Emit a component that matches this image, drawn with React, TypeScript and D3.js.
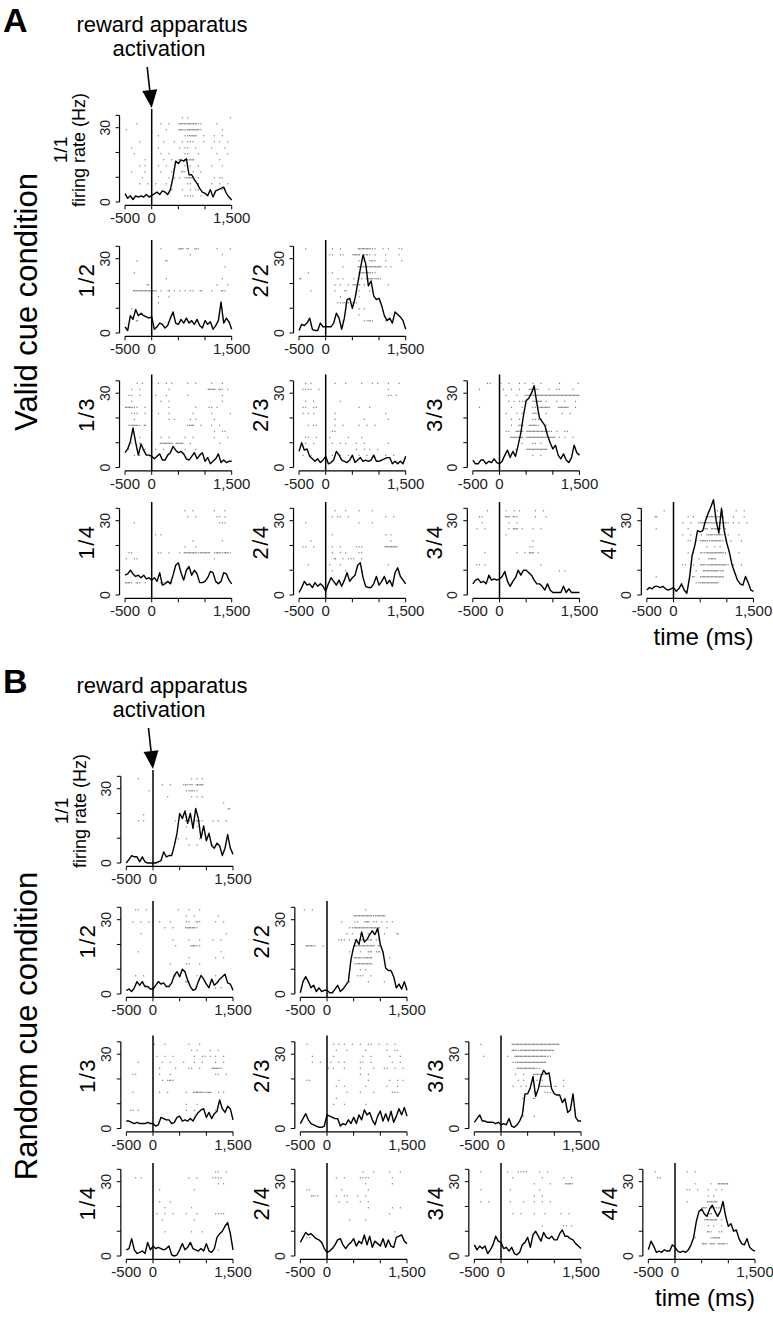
// Spike rasters + PSTHs for the valid / random cue conditions (panels A and B)

import * as d3 from "d3";

const WIDTH = 773;
const HEIGHT = 1319;
const FONT = "'Liberation Sans', Arial, Helvetica, sans-serif";

// PSTH bin times (ms) and axis ticks
const TIMES = d3.range(-500, 1501, 50);
const X_TICKS = [-500, 0, 500, 1000, 1500];
const X_TICK_LABELS = ["-500", "0", "", "", "1,500"];
const Y_TICKS = [0, 10, 20, 30, 35];
const Y_TICK_LABELS = ["0", "", "", "30", ""];

// firing rate (Hz) per 50 ms bin, valid cue condition
const VALID_1_1 = [3.4, 1.5, 2.5, 1, 2.5, 2, 2.5, 2, 3, 2, 2.7, 3.3, 4, 3, 4.5, 4, 3, 5, 10, 16.5, 15.5, 17, 16.5, 17.5, 11, 11, 9, 7.5, 5.5, 4, 3.5, 2.5, 5, 2, 4.5, 5, 5.5, 6, 3.5, 2, 0.8];
const VALID_1_2 = [2.5, 1, 7, 5.5, 9.5, 7, 8, 7, 6.5, 6, 6.5, 1.5, 2.5, 4, 3.5, 2, 3, 6, 8.5, 4, 3.5, 5.5, 4, 6, 4, 5, 3.5, 5.5, 3, 2, 5, 3.5, 4.5, 1.5, 3, 5, 12.5, 4, 6, 4.5, 1.5];
const VALID_2_2 = [1, 3.5, 3, 4, 6, 1.5, 1, 1, 4, 2.5, 2.5, 2.5, 2.5, 4, 8, 6, 1.5, 6, 13.5, 14, 10, 14, 20, 26, 31.5, 28, 19, 21, 15, 13.5, 14, 11, 7, 5, 6, 4, 8.5, 7.5, 6.5, 5, 1.5];
const VALID_1_3 = [6, 7.5, 10.5, 16, 10, 5, 9.5, 7, 5, 5, 4.5, 3.5, 4.5, 5.5, 3, 3, 5, 6, 8.5, 7, 6, 6.5, 5.5, 3.5, 3, 4.5, 6, 3.5, 5, 6, 2.5, 4, 1.5, 2.5, 3.5, 5.5, 2, 3, 2, 2.5, 2.5];
const VALID_2_3 = [6.5, 10, 7, 7.5, 4.5, 3.5, 2.5, 3.5, 2, 3, 4.5, 1.5, 2, 3, 6.5, 5, 3, 2.5, 2, 3, 5, 2, 3, 4, 2.5, 3, 2.5, 3, 5, 2.5, 2.5, 3, 3.5, 4, 4, 1.5, 2.5, 1.5, 2.5, 1.5, 4.5];
const VALID_3_3 = [3, 1.5, 1.5, 3, 3, 1.5, 2.5, 2, 3.5, 2, 1.5, 2.5, 5, 7, 4, 6.5, 4.5, 9, 14, 21, 27, 28, 30, 33, 26, 20, 18.5, 17, 13, 10, 7.5, 9, 5, 3.5, 5.5, 3, 2, 4, 9, 6, 5];
const VALID_1_4 = [8, 8.5, 10, 8.5, 7.5, 8, 7, 8, 6.5, 7, 6, 7, 5.5, 9, 4, 4.5, 5.5, 4.5, 8, 12, 13, 9, 6, 10, 11.5, 8, 10, 8.5, 5, 5, 5.5, 7, 9.5, 9, 5.5, 4.5, 5.5, 9, 8.5, 6, 4.5];
const VALID_2_4 = [1, 3, 5.5, 4, 4.5, 3, 5, 3.5, 4.5, 3.5, 1.5, 4.5, 7, 5.5, 4, 6, 3.5, 6, 9, 5.5, 7, 8, 12, 13, 7, 3.5, 3, 3, 4.5, 7.5, 4, 5.5, 7.5, 4.5, 6, 3.5, 9, 11, 7.5, 6, 4.5];
const VALID_3_4 = [4.5, 6, 6.5, 5, 5.5, 4.5, 8, 6, 6.5, 6, 6.5, 7.5, 9.5, 5.5, 3.5, 5.5, 7, 10, 8, 10, 10, 9, 8, 6, 4.5, 4.5, 3.5, 2, 4.5, 2, 1, 1, 1, 1, 3.5, 1, 2.5, 1, 1, 1, 1];
const VALID_4_4 = [2, 3, 2.5, 3.5, 3.5, 3, 3.5, 2.5, 2, 2.5, 3, 1.5, 2.5, 4.5, 2, 0.7, 7, 16, 20, 26, 25.5, 26, 30, 33, 35.5, 38.5, 30, 25, 35, 26, 21, 17, 12, 9, 6, 4.5, 4, 7.5, 5, 2, 1.5];

// firing rate (Hz) per 50 ms bin, random cue condition
const RANDOM_1_1 = [0, 1.5, 3, 2.5, 2.5, 0.5, 2.5, 0.5, 0, 0, 0, 0, 0.5, 1, 4.5, 2.5, 3, 3, 7, 12, 20, 18, 21, 16, 20, 14, 22, 18, 10, 15, 9, 12, 7, 6, 8, 7, 3, 6, 11.5, 6, 3.5];
const RANDOM_1_2 = [1.5, 2, 1, 2.5, 5, 3.5, 5, 3, 3, 2, 2, 3.5, 5, 4, 4.5, 3, 3, 4.5, 7.5, 9, 7, 10, 9, 5.5, 3, 1.5, 2, 5, 7.5, 6, 4, 2.5, 6, 3.5, 4.5, 6, 7, 8, 4.5, 4, 1.5];
const RANDOM_2_2 = [0.5, 5, 7, 5, 2.5, 3.5, 1, 2.5, 1, 1.5, 1.5, 0.5, 0.5, 2, 3.5, 1, 2, 3.5, 5, 14, 19, 22, 20, 25, 21, 22, 24, 25.5, 24, 26.5, 20, 17, 10.5, 9.5, 9.5, 7, 2.5, 4, 2, 5, 1.5];
const RANDOM_1_3 = [3, 3, 2.5, 2, 2.5, 2, 2, 2, 2.5, 2, 2, 1, 1.5, 4.5, 4, 3.5, 3.5, 2, 2.5, 4.5, 5, 3, 3.5, 3, 4, 3, 5, 6.5, 7.5, 8, 4.5, 6.5, 4, 6, 7, 11.5, 8, 6.5, 9, 8, 3.5];
const RANDOM_2_3 = [2, 4, 6, 3.5, 2, 1.5, 1, 0.5, 0.5, 1, 5.5, 5, 4.5, 4, 4, 1, 2, 1.5, 3.5, 2, 4.5, 2, 5.5, 3.5, 7.5, 5.5, 6.5, 3.5, 1.5, 5, 7, 3, 6, 3, 7, 2.5, 5, 8, 5.5, 8.5, 5];
const RANDOM_3_3 = [2.5, 4, 5.5, 3, 3, 2.5, 2.5, 2.5, 2, 2.5, 1.5, 2, 1.5, 4, 1, 0.5, 1.5, 3, 5.5, 14, 14, 16.5, 21, 13, 16, 21, 23.5, 22, 22.5, 16, 14, 13.5, 13.5, 10.5, 12, 6.5, 7.5, 14, 4.5, 3, 3];
const RANDOM_1_4 = [2.5, 3, 7, 2.5, 1, 1.5, 2, 1, 5.5, 2.5, 4, 3, 3.5, 3, 2.5, 3, 4, 0.5, 0, 0.5, 2.5, 5, 2.5, 3.5, 5.5, 3, 2.5, 2, 3, 2, 5, 2, 1.5, 3, 7.5, 9, 10, 12, 13.5, 9, 2.5];
const RANDOM_2_4 = [5.5, 7.5, 9.5, 8.5, 9, 8, 7, 6.5, 5.5, 3, 1.5, 2, 3, 4.5, 6.5, 7, 4.5, 3, 4.5, 5.5, 7, 4, 6, 5, 8.5, 4.5, 8, 3.5, 6, 5, 4, 7, 3.5, 6.5, 4, 3.5, 7.5, 8, 8.5, 6, 5];
const RANDOM_3_4 = [4.5, 2.5, 4, 3, 4, 1, 2.5, 4.5, 8, 6, 5.5, 3, 3.5, 2, 3.5, 1, 0.5, 1.5, 4.5, 5.5, 7.5, 3.5, 8.5, 10, 8, 6, 9.5, 7.5, 7, 8, 6.5, 6.5, 9, 10.5, 8, 8, 7, 6.5, 5, 4, 3];
const RANDOM_4_4 = [2.5, 6, 4, 1.5, 2, 1.5, 2.5, 2, 2, 4.5, 3.5, 2, 1.5, 2, 1.5, 2.5, 4.5, 7.5, 14, 18, 19, 17, 16, 19, 20.5, 18, 16, 18, 22, 16, 12, 13, 10, 10.5, 7, 5, 4.5, 7, 3.5, 2.5, 2];

// spike rasters: one string per trial (top to bottom), one char per 50 ms bin
// from -500 to 1500 ms, "|" every 500 ms.  "." spike, ":" two spikes, "-" burst
const RASTER_V_1_1 = [
  "          |          | . .      |         .",
  "    .     |   .  .   |-------.. |    .     ",
  ".         |     .    |--.-----. |      .   ",
  "          |  .       |  ..---  .|   .  .   ",
  "     .    |    .   . | . ...   .|   . .  . ",
  "  .       |  .       |. ..  .   |  .    .  ",
  "   .      |   .  .   |  ..   .  |    .   . ",
  "       .  |    .  .  |- ..--    |     .    ",
  "     . .  |  .  .    |  . .  .  |  .   .   ",
  "  .    .  |   .   .  | -.  .  . |          ",
  "      .   |      . . |. .--- .  |   . ..   ",
  "     .  . | .   . .  |   ..  .  |  .  .  . ",
  "          |       .  | .  . ..  |      .   ",
  "          |          |  ....  . |          ",
];
const RASTER_V_1_2 = [
  "          |   .      |-- -  -.  |    .    .",
  "          |          |    .     |      .   ",
  "    .     |     :    |          |          ",
  "          |          |          |       .  ",
  "   .      |          |          |          ",
  "          |     .    |          |      .   ",
  "        : |          |          |    .   . ",
  "   -------|-- .  - . |. . ..  - |  .   -.  ",
  "          |  .   .   |          |          ",
  "          |  .       |          |          ",
  "  .       |          |          |          ",
  "          |          |          |          ",
  "    :     |          |          |          ",
  "          |          |          |          ",
];
const RASTER_V_2_2 = [
  "  .       |  .  .    |  -----.. | . .   .. ",
  "          | ..  ..   |--- --. . |  .    .  ",
  "          |          |  ... .-. |  .     . ",
  "          |      .   |  -------:|- . .     ",
  "   .      |  .       |  .----.. |          ",
  "-         |    . .   |. .. ---.-|.         ",
  "          |   . .  . |--- .     |   .      ",
  "    .     |   .   -  |  .   .   |          ",
  "          |     .    |  .       |          ",
  "          |    ...-. |-.        |          ",
  "          |          |  . .     |          ",
  "          |          |  .       |          ",
  "          |      .   |    ..-.  |  .       ",
  "          |          |          |          ",
];
const RASTER_V_1_3 = [
  "    . .   |  .  . .  |   .  .   |  .   .   ",
  "  .  .    |      .   |          | --- -. . ",
  " ..  .    | .   .    |   .      |      .   ",
  "  .       |   .  .   |          |      .   ",
  "---..  .  |      .   |      .   | .. .     ",
  "  ...  .  |  .   .   |     .    |  .      .",
  "   .      |      . . |    . .   |   .      ",
  " .---. -  |          |   .--  . |  .  .    ",
  "          |          |          |   .  ..  ",
  "   . .    |   .  .   |  .  .    |   .    . ",
  "  .  .    |   ----- -|--  .     |     .    ",
  " .  .  .  | .  .  .  |  .   .   |          ",
  "   . .    |          |          |          ",
  "          |          |          |          ",
];
const RASTER_V_2_3 = [
  "  . .     |   .   .  |   .   . .|   .   .  ",
  " ....  .  |          |          |   .      ",
  "          |          |          |   .. .   ",
  "  .  .    |     .    |          |          ",
  " ..  ..   |          |  .   .   |          ",
  " . . .    |   .      |          |  .       ",
  "          |   .      |    .     |   .      ",
  "   . ..   |   .  .   |  .  .  . |          ",
  "          |  ..      |          |          ",
  "  ..  .   | .      . |   .      |          ",
  "  .  .    |  .  . .  | .  .     |   .      ",
  "          |          | .  . .  .|          ",
  " .  .     |  .  .  . |  .  .    |  .  .    ",
  "          |          |          |          ",
];
const RASTER_V_3_3 = [
  "     ..   |.  .   . .|  .  .    |  .      .",
  "  .       | .  .  .  | ---.   . | ..    .  ",
  "          |  .   .  .|----------|:---------",
  "          |   . . ...|  .--- .  | .  .   . ",
  "  .       |    .   . |  ...---- |  ----  . ",
  "          |  .   . . |  .-.  .  |   .  .   ",
  "          |    .  .  |  ....    |          ",
  "          |    .  -- | ---.  .  |          ",
  "          |  ..  --- |---------.| .  ..    ",
  "          |    ----- |----------|- . .  .  ",
  "          |        . |  .. .    |          ",
  "          |      -   |--------  |          ",
  "          |          |  .  .    |          ",
  "          |          |          |          ",
];
const RASTER_V_1_4 = [
  "          |          |  .  .    |   .   .  ",
  "          |          |   .  .   |    .. .  ",
  "   .      |          |          |     ...  ",
  "          |          |          |          ",
  "          | . .      |          |          ",
  "          |          |     .    |      .   ",
  "          |          |  .   .   |          ",
  " ..       |  ..  .   |. -----.--|-- .--.--.",
  ".  ..     |          |          |   .      ",
  "          |          |          |          ",
  "          |          |          |          ",
  "          |          |          |          ",
  "--. -. .  |   -.  .  |          |          ",
  "          |          |          |          ",
];
const RASTER_V_2_4 = [
  "          |   .   .  |  .    .  |          ",
  "          |  . ..  . |          |  .  .    ",
  "  .       |          |  .    .  |          ",
  "          |          |          |          ",
  "          |  .       |          |  . .     ",
  "    .     |          |          |    .     ",
  " ..  .    |  .  .    | ...      |  -----   ",
  "          |  .  . .  |  ..      |          ",
  "          |   -  . ..|.  .      |          ",
  "   .      | .   .    |          |   .      ",
  "          |  .    .  |   .      |          ",
  "          |          |          |          ",
  "          |          |          |          ",
  "          |          |          |          ",
];
const RASTER_V_3_4 = [
  "     .    |  .  . .  |   .  .   |          ",
  "  ..      |  -- -.   |   .   .  |          ",
  "   .      |   .  .   |          |          ",
  " .  .     |   . -- . |  .  .    |          ",
  "          |  .       |          |          ",
  "          |          |  .       |          ",
  "          |          | ..       |          ",
  "    .     |      .  .| -- .     |          ",
  "          |          |          |          ",
  " .. .     |          |     .    |          ",
  "          |          |          |  . .     ",
  "          |          |          |          ",
  "          |          |          |          ",
  "          |          |          |          ",
];
const RASTER_V_4_4 = [
  "      .   |          |   .  . . |   .  .   ",
  "   -      |     . .  |  ------- |  .   .   ",
  "          |   .  .  .|---------:|. . .  .  ",
  "   .      |     .    | -- ---- .|          ",
  "          |   .  .   |. .--.--. |.   .     ",
  "          |     .. . |---.----..| .   .    ",
  "          |          |  .  . .  |          ",
  "          |     . .  |-.-------.|    .     ",
  "          |         .|   ---    |          ",
  "          |   ..  .  |--.-------|. .  .    ",
  "          |      . . | ------.- |          ",
  "   .      |       -  |--------- |          ",
  "          |        ..|-------   |          ",
  "          |          |          |          ",
];

const RASTER_R_1_1 = [
  "    .     |          |    . . . |          ",
  "          |   .  .   | .-.- --- |          ",
  "        . |          |  ..-..   |          ",
  "          |     .    |    . . . |          ",
  "          |          |          |      .   ",
  "          |          |          |        - ",
  "      .   |          |          |          ",
  "    . .   |        . |  -- .-.. |  . .  .  ",
  "          |          |  .   .   |          ",
  "          |          |          |          ",
  "          |         .|  .    .  |          ",
  "          |          |   .  .   |  . .     ",
  "          |          |          |          ",
  "          |          |          |          ",
];
const RASTER_R_1_2 = [
  "   ..  .  |         .|   .   .  |          ",
  "          |          |  .  .    |    .     ",
  "  .  .  . |  .   .   |  ..  -.  |   .  .   ",
  "          |    .  .  |  ----.   |          ",
  "     .    |          |          |       .  ",
  "          |       .  |   .   .  |  .  .    ",
  "          |        . |    --..  |          ",
  "    .     |          |          |     .    ",
  "          |          |   .      |   .  .   ",
  "          |      .   |  ..   .  |          ",
  "          |          |          |          ",
  "   .  .   |        . |      .   |   .      ",
  "          |          |  -.      |    .     ",
  "          |          |          |   . .    ",
];
const RASTER_R_2_2 = [
  " .  .     |          |    .     |          ",
  "          |          |-------.--|--        ",
  "          |     .    |..  -- .. |. . .     ",
  "          |        ..|----------|  .       ",
  "          |       . .|  .  . .  | .    -   ",
  "          |    ... . |. -- .- ..|          ",
  "  ---.  . |          |-------- -|          ",
  "          |        . |  .  .- .:|          ",
  "          |          |---.---   |   .      ",
  "          |          |.------   |          ",
  "          |          |  . .     |          ",
  "          |          | ...  .   |          ",
  "          |        . |     .    | .        ",
  "          |          |          |          ",
];
const RASTER_R_1_3 = [
  "          |.   .     |   .   .  |          ",
  "          |          |    . .   | .  .     ",
  "          | .  .  .  |     .  ..| . .  .   ",
  "    .     |   .  .   | .   .  . |   .  .   ",
  "          |  .     . |   ..  .  |  ---.    ",
  "  ..      |  .   .   |          |   ..  .  ",
  "          |   . .-.  |          |          ",
  "          |          |          |          ",
  "  .       |  .  .    |  .  ----.|--  . .   ",
  "          |          |          |          ",
  "          |          |  .   .   |          ",
  " .. .     |          |  .  .    |   .  .   ",
  "          |          |          |          ",
  "          |          |          |          ",
];
const RASTER_R_2_3 = [
  "  .       |  . . .  .|  .  ..  .|  .  .    ",
  "          |   .   .  |    .     |  .  ..   ",
  "    .     |  .       |   .  .   |   .   .  ",
  "    .  .  | .  . .   |  ..  .   |    .  .  ",
  "          |. .   .   |  .    .  | ..  .  . ",
  "          |          |  .  .    |          ",
  "  ..      |    .     |     .    |   .  . . ",
  "          |   .  .   |    .     |  .   .   ",
  "          |       .  |  .    .  |    ...   ",
  "          |   .      |          |          ",
  "          |  .   .   |    .     |          ",
  "          |          |          |          ",
  "          |          |          |          ",
  "          |          |          |          ",
];
const RASTER_R_3_3 = [
  "  .       |    ------|----------|--        ",
  "          |    --.---|----------|          ",
  "   .      |  .  -----|-------.. |          ",
  "          |    ..----|-------   |          ",
  "          |      ----|---..     |          ",
  "          |     .  . |  ----.   |          ",
  "          |      . . |   . .  . |   .      ",
  "          |    .  . .|  . ----- |-  .      ",
  "          |          |  ..  ... |          ",
  "          |        - |  -       |          ",
  "          |          |          |          ",
  "          |        . |          |          ",
  "          |        . |  .       |          ",
  "          |          |          |          ",
];
const RASTER_R_1_4 = [
  "          |          |          |   ..  .  ",
  "   . .    |          |   .  .   |  ....    ",
  "          |          |          |    . .   ",
  "          |  .       |     .    |          ",
  "          |          |          |          ",
  "          |  .   .   |          |          ",
  "          |    .     |    .     |          ",
  "          | .  .  .  |  .   .   |   ....   ",
  "          |   .      |     .    |          ",
  "          |          |          |          ",
  "          |    .     |    .   . |          ",
  "          |          |          |          ",
  "          |          |          |          ",
  "          |          |          |    .     ",
];
const RASTER_R_2_4 = [
  "          |          |   .   .  |   .   .  ",
  "          |   .  .   |  ....    |    .     ",
  "          |          |    .     |    .     ",
  "  ..      |     .    |     .    |          ",
  "    -..   |   .  ..  | .  .     |          ",
  "          |    .  .  |  .  .    |          ",
  "          |          |     .    |    .  .  ",
  "          |          |          |   .      ",
  "          |        . |    .     |          ",
  "          |          |          |          ",
  "          |          |          |     .    ",
  "  .. .    |          |          |          ",
  "          |          |          |          ",
  "          |          |          |          ",
];
const RASTER_R_3_4 = [
  "  .       |  .   ....|    .  .  |          ",
  "          |    .     |     .    |   .  .   ",
  "          |          |  .     . |    ---   ",
  "  .       |   .      |    .     |          ",
  "          |          |  .  .    |          ",
  "  .  .    |   .    . |  .  .  . |          ",
  "          |          |          |          ",
  "          |    .  .  |  .   .   |  .  .    ",
  "          |          |          |          ",
  "          |          |     .    |   .. .   ",
  "          |          |          |          ",
  "          |          |          |          ",
  "          |          |          |          ",
  "          |          |          |          ",
];
const RASTER_R_4_4 = [
  "  .       |    .  .  |          |          ",
  "   ..     |          |          |          ",
  "          |       .  |   .  ----|          ",
  "          |    ..  . |  .  . .  |          ",
  "          |          |  . .     |          ",
  "          |    .     |  ----    |          ",
  "          |          |-- --..   |          ",
  "          |          |  --  .   |          ",
  "          |          | ----- .  |          ",
  "          |          |  . .  .  |          ",
  "          |          |  -.  ..  |          ",
  "          |       .  |   .---   |          ",
  "          |          |-- -- ---.|          ",
  "          |          |          |          ",
];

// layout: pixel position of t = 0 ms per column and of 0 Hz per row
const COL_X0 = { valid: [151.7, 325.7, 499.5, 673.5], random: [153, 327, 501, 675] };
const ROW_Y0 = [202, 333, 467.5, 595];
const PANEL_B_SHIFT = 661;
const PX_PER_MS = 80 / 1500;
const PX_PER_HZ = 74.3 / 30;

type Panel = {
  cond: "valid" | "random";
  row: number;
  col: number;
  psth: number[];
  raster: string[];
};

const PANELS: Panel[] = [
  { cond: "valid", row: 0, col: 0, psth: VALID_1_1, raster: RASTER_V_1_1 },
  { cond: "valid", row: 1, col: 0, psth: VALID_1_2, raster: RASTER_V_1_2 },
  { cond: "valid", row: 1, col: 1, psth: VALID_2_2, raster: RASTER_V_2_2 },
  { cond: "valid", row: 2, col: 0, psth: VALID_1_3, raster: RASTER_V_1_3 },
  { cond: "valid", row: 2, col: 1, psth: VALID_2_3, raster: RASTER_V_2_3 },
  { cond: "valid", row: 2, col: 2, psth: VALID_3_3, raster: RASTER_V_3_3 },
  { cond: "valid", row: 3, col: 0, psth: VALID_1_4, raster: RASTER_V_1_4 },
  { cond: "valid", row: 3, col: 1, psth: VALID_2_4, raster: RASTER_V_2_4 },
  { cond: "valid", row: 3, col: 2, psth: VALID_3_4, raster: RASTER_V_3_4 },
  { cond: "valid", row: 3, col: 3, psth: VALID_4_4, raster: RASTER_V_4_4 },
  { cond: "random", row: 0, col: 0, psth: RANDOM_1_1, raster: RASTER_R_1_1 },
  { cond: "random", row: 1, col: 0, psth: RANDOM_1_2, raster: RASTER_R_1_2 },
  { cond: "random", row: 1, col: 1, psth: RANDOM_2_2, raster: RASTER_R_2_2 },
  { cond: "random", row: 2, col: 0, psth: RANDOM_1_3, raster: RASTER_R_1_3 },
  { cond: "random", row: 2, col: 1, psth: RANDOM_2_3, raster: RASTER_R_2_3 },
  { cond: "random", row: 2, col: 2, psth: RANDOM_3_3, raster: RASTER_R_3_3 },
  { cond: "random", row: 3, col: 0, psth: RANDOM_1_4, raster: RASTER_R_1_4 },
  { cond: "random", row: 3, col: 1, psth: RANDOM_2_4, raster: RASTER_R_2_4 },
  { cond: "random", row: 3, col: 2, psth: RANDOM_3_4, raster: RASTER_R_3_4 },
  { cond: "random", row: 3, col: 3, psth: RANDOM_4_4, raster: RASTER_R_4_4 },
];

// raster trials are stacked from 34 Hz (top) down to 2.5 Hz on the rate axis
const TRIAL_TOP = 34;
const TRIAL_BOTTOM = 2.5;
// where the spikes of one 50 ms bin sit, per raster symbol
const SPIKE_OFFSETS: Record<string, number[]> = {
  ".": [25],
  ":": [12, 38],
  "-": [10, 35],
};

function parseRaster(rows: string[]) {
  const out: { trial: number; bin: number; ch: string }[] = [];
  rows.forEach((row, trial) => {
    row.split("|").forEach((seg, s) => {
      seg.padEnd(10, " ").slice(0, 10).split("").forEach((ch, k) => {
        if (SPIKE_OFFSETS[ch]) out.push({ trial, bin: s * 10 + k, ch });
      });
    });
  });
  return out;
}

function PsthPanel({ p }: { p: Panel }) {
  const x0 = COL_X0[p.cond][p.col];
  const y0 = ROW_Y0[p.row] + (p.cond === "random" ? PANEL_B_SHIFT : 0);

  const xScale = d3.scaleLinear().domain([0, 1500]).range([x0, x0 + 1500 * PX_PER_MS]);
  const yScale = d3.scaleLinear().domain([0, 30]).range([y0, y0 - 30 * PX_PER_HZ]);
  const trialScale = d3
    .scaleLinear()
    .domain([0, Math.max(1, p.raster.length - 1)])
    .range([yScale(TRIAL_TOP), yScale(TRIAL_BOTTOM)]);

  const axisX = xScale(-500) - 5.5;
  const axisY = y0 + 3.3;

  const line = d3
    .line<number>()
    .x((_, i) => xScale(TIMES[i]))
    .y((d) => yScale(d));

  const spikes = parseRaster(p.raster);
  const first = p.row === 0;
  const label = `${p.col + 1}/${p.row + 1}`;

  return (
    <g>
      {/* raster */}
      {spikes.map((s, i) => {
        const t = -500 + s.bin * 50;
        const y = trialScale(s.trial);
        return SPIKE_OFFSETS[s.ch].map((off, j) => (
          <rect key={`${i}-${j}`} x={xScale(t + off) - 0.55} y={y - 0.55} width={1.1} height={1.1}
            fill="#6a6a6a" />
        ));
      })}

      {/* y axis */}
      <line x1={axisX} x2={axisX} y1={yScale(0)} y2={yScale(35)} stroke="#000" strokeWidth={1.2} />
      {Y_TICKS.map((v, i) => (
        <g key={`yt${i}`}>
          <line x1={axisX - 4} x2={axisX} y1={yScale(v)} y2={yScale(v)} stroke="#000" strokeWidth={1} />
          {Y_TICK_LABELS[i] && (
            <text transform={`translate(${axisX - 10},${yScale(v)}) rotate(-90)`} textAnchor="middle"
              fontSize={14} fontFamily={FONT} fill="#222">
              {Y_TICK_LABELS[i]}
            </text>
          )}
        </g>
      ))}

      {/* x axis */}
      <line x1={xScale(-500)} x2={xScale(1500)} y1={axisY} y2={axisY} stroke="#000" strokeWidth={1.2} />
      {X_TICKS.map((v, i) => (
        <g key={`xt${i}`}>
          <line x1={xScale(v)} x2={xScale(v)} y1={axisY} y2={axisY + 4} stroke="#000" strokeWidth={1} />
          {X_TICK_LABELS[i] && (
            <text x={xScale(v)} y={y0 + 21} textAnchor="middle" fontSize={15} fontFamily={FONT} fill="#222">
              {X_TICK_LABELS[i]}
            </text>
          )}
        </g>
      ))}

      {/* event marker at t = 0 */}
      <line x1={xScale(0)} x2={xScale(0)} y1={axisY} y2={y0 - 93} stroke="#000" strokeWidth={1.5} />

      {/* PSTH */}
      <path d={line(p.psth) ?? ""} fill="none" stroke="#000" strokeWidth={1.4} strokeLinejoin="round" />

      {/* panel label */}
      {first ? (
        <>
          <text transform={`translate(${x0 - 85},${y0 - 52}) rotate(-90)`} textAnchor="middle"
            fontSize={19} fontFamily={FONT}>
            {label}
          </text>
          <text transform={`translate(${x0 - 67},${y0 - 52}) rotate(-90)`} textAnchor="middle"
            fontSize={18} fontFamily={FONT}>
            firing rate (Hz)
          </text>
        </>
      ) : (
        <text transform={`translate(${x0 - 58},${y0 - 53}) rotate(-90)`} textAnchor="middle"
          fontSize={22} letterSpacing={1.5} fontFamily={FONT}>
          {label}
        </text>
      )}
    </g>
  );
}

function Header({ letter, shift, x0 }: { letter: string; shift: number; x0: number }) {
  const tipX = x0;
  const tipY = ROW_Y0[0] - 94 + shift;
  const startX = tipX - 4.5;
  const startY = tipY - 41;
  const ang = Math.atan2(tipY - startY, tipX - startX);
  const headLen = 18;
  const headW = 7.5;
  const bx = tipX - headLen * Math.cos(ang);
  const by = tipY - headLen * Math.sin(ang);
  const px = -Math.sin(ang) * headW;
  const py = Math.cos(ang) * headW;
  return (
    <g fontFamily={FONT}>
      <text x={3} y={32 + shift} fontSize={34} fontWeight="bold">
        {letter}
      </text>
      <text x={162} y={32 + shift} fontSize={22} textAnchor="middle">
        reward apparatus
      </text>
      <text x={159} y={56 + shift} fontSize={22} textAnchor="middle">
        activation
      </text>
      <line x1={startX} y1={startY} x2={bx} y2={by} stroke="#000" strokeWidth={1.6} />
      <path d={`M${tipX},${tipY}L${bx + px},${by + py}L${bx - px},${by - py}Z`} fill="#000" />
    </g>
  );
}

export default function App() {
  return (
    <div style={{ position: "absolute", left: 0, top: 0 }}>
      <svg width={WIDTH} height={HEIGHT} style={{ display: "block", background: "#fff" }}>
        <Header letter="A" shift={0} x0={COL_X0.valid[0]} />
        <Header letter="B" shift={PANEL_B_SHIFT} x0={COL_X0.random[0]} />

        <text transform="translate(37,302) rotate(-90)" textAnchor="middle" fontSize={31} fontFamily={FONT}>
          Valid cue condition
        </text>
        <text transform={`translate(37,${302 + PANEL_B_SHIFT + 63}) rotate(-90)`} textAnchor="middle"
          fontSize={31} fontFamily={FONT}>
          Random cue condition
        </text>

        {PANELS.map((p, i) => (
          <PsthPanel key={i} p={p} />
        ))}

        <text x={COL_X0.valid[3] + 80} y={645} textAnchor="end" fontSize={24} fontFamily={FONT}>
          time (ms)
        </text>
        <text x={COL_X0.random[3] + 80} y={645 + PANEL_B_SHIFT} textAnchor="end" fontSize={24}
          fontFamily={FONT}>
          time (ms)
        </text>
      </svg>
    </div>
  );
}
